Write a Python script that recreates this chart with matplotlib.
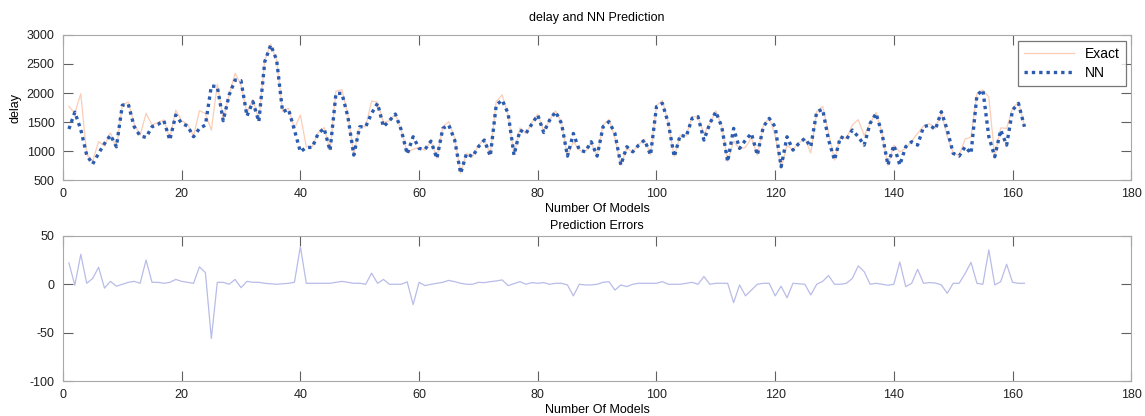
import numpy as np
import matplotlib
matplotlib.use("Agg")
import matplotlib.pyplot as plt

plt.rcParams["font.family"] = ["Liberation Sans", "DejaVu Sans"]
plt.rcParams["axes.unicode_minus"] = False

# model index 1..162
models = list(range(1, 163))

nn_pred = [
    1380, 1670, 1370, 930, 776, 960, 1130, 1276, 1075, 1790,
    1810, 1420, 1260, 1236, 1420, 1460, 1523, 1190, 1620, 1477,
    1431, 1247, 1391, 1448, 2121, 2110, 1523, 1966, 2224, 2213,
    1603, 1851, 1506, 2540, 2828, 2569, 1678, 1719, 1362, 988,
    1063, 1063, 1304, 1391, 1006, 1994, 1994, 1592, 931, 1419,
    1419, 1649, 1822, 1419, 1523, 1638, 1362, 948, 1247, 1046,
    1029, 1172, 873, 1391, 1448, 1190, 615, 960, 902, 1075,
    1190, 914, 1793, 1879, 1649, 931, 1362, 1304, 1465, 1621,
    1320, 1534, 1678, 1477, 914, 1304, 1017, 988, 1161, 914,
    1419, 1506, 1304, 759, 1075, 988, 1103, 1190, 931, 1764,
    1822, 1477, 902, 1276, 1247, 1563, 1592, 1190, 1477, 1678,
    1419, 816, 1391, 1046, 1190, 1304, 931, 1419, 1563, 1419,
    730, 1247, 1017, 1132, 1218, 1075, 1678, 1718, 1190, 845,
    1247, 1201, 1362, 1247, 1103, 1477, 1649, 1304, 759, 1103,
    759, 1075, 1161, 1103, 1419, 1448, 1373, 1678, 1362, 960,
    914, 1075, 960, 1965, 2052, 1247, 902, 1362, 1103, 1707,
    1822, 1419,
]

exact = [
    1769, 1653, 1986, 939, 826, 1164, 1087, 1315, 1054, 1790,
    1847, 1464, 1273, 1648, 1449, 1490, 1538, 1214, 1705, 1523,
    1460, 1260, 1696, 1645, 1360, 2153, 1554, 1966, 2341, 2138,
    1653, 1889, 1537, 2566, 2842, 2569, 1686, 1736, 1390, 1620,
    1074, 1074, 1317, 1405, 1016, 2035, 2056, 1624, 940, 1433,
    1419, 1863, 1840, 1494, 1523, 1638, 1362, 972, 1031, 1067,
    1015, 1172, 882, 1419, 1508, 1223, 621, 960, 902, 1097,
    1211, 939, 1856, 1968, 1626, 938, 1400, 1304, 1490, 1637,
    1343, 1534, 1695, 1492, 908, 1164, 1017, 981, 1153, 914,
    1448, 1548, 1230, 754, 1050, 988, 1114, 1202, 940, 1782,
    1873, 1477, 902, 1276, 1260, 1595, 1592, 1293, 1477, 1695,
    1433, 824, 1169, 1039, 1063, 1230, 931, 1433, 1579, 1267,
    716, 1094, 1027, 1138, 1218, 968, 1678, 1771, 1308, 845,
    1247, 1213, 1449, 1540, 1268, 1477, 1666, 1304, 751, 1103,
    986, 1050, 1173, 1305, 1433, 1473, 1391, 1666, 1246, 970,
    923, 1208, 1242, 1985, 2052, 1933, 896, 1400, 1391, 1742,
    1840, 1433,
]

# prediction error in percent
errors = [
    22, -1, 31, 1, 6, 17.5, -4, 3, -2, 0,
    2, 3, 1, 25, 2, 2, 1, 2, 5, 3,
    2, 1, 18, 12, -56, 2, 2, 0, 5, -3.5,
    3, 2, 2, 1, 0.5, 0, 0.5, 1, 2, 39,
    1, 1, 1, 1, 1, 2, 3, 2, 1, 1,
    0, 11.5, 1, 5, 0, 0, 0, 2.5, -21, 2,
    -1.4, 0, 1, 2, 4, 2.7, 1, 0, 0, 2,
    1.7, 2.7, 3.4, 4.5, -1.4, 0.7, 2.7, 0, 1.7, 1,
    1.7, 0, 1, 1, -0.7, -12, 0, -0.7, -0.7, 0,
    2, 2.7, -6, -0.7, -2.4, 0, 1, 1, 1, 1,
    2.7, 0, 0, 0, 1, 2, 0, 8, 0, 1,
    1, 1, -19, -0.7, -12, -6, 0, 1, 1, -12,
    -2, -14, 1, 0.5, 0, -11, 0, 3, 9, 0,
    0, 1, 6, 19, 13, 0, 1, 0, -1, 0,
    23, -2.4, 1, 15.5, 1, 1.7, 1.3, -0.7, -9.3, 1,
    1, 11, 22.7, 1, 0, 35.5, -0.7, 2.7, 20.7, 2,
    1, 1,
]

SPINE = "#a8a8a8"
TICK = "#606060"


def style_axes(ax):
    for s in ax.spines.values():
        s.set_color(SPINE)
        s.set_linewidth(0.8)
    ax.tick_params(direction="in", length=7, width=0.8, color=TICK,
                   top=True, right=True, labelsize=9, labelcolor="#222222",
                   pad=6)
    ax.set_xlim(0, 180)
    ax.set_xticks(range(0, 181, 20))


fig = plt.figure(figsize=(11.45, 4.16), dpi=100)
ax1 = fig.add_axes([0.055, 0.567, 0.933, 0.349])
ax2 = fig.add_axes([0.055, 0.084, 0.933, 0.349])

ax1.plot(models, exact, color="#fbcdb6", lw=0.9, label="Exact")
ax1.plot(models, nn_pred, color="#2b5cb0", lw=2.4, linestyle=(0, (1, 1.2)),
         label="NN")
style_axes(ax1)
ax1.set_ylim(500, 3000)
ax1.set_yticks(range(500, 3001, 500))
ax1.set_title("delay and NN Prediction", fontsize=9, pad=10)
ax1.set_xlabel("Number Of Models", fontsize=9, labelpad=2)
ax1.set_ylabel("delay", fontsize=9, labelpad=4)
leg = ax1.legend(loc="upper right", bbox_to_anchor=(1126 / 1145, 1 - 41 / 416),
                 bbox_transform=fig.transFigure,
                 borderaxespad=0, fontsize=10, fancybox=False,
                 handlelength=3.6, borderpad=0.45, labelspacing=0.35)
leg.get_frame().set_edgecolor("#555555")
leg.get_frame().set_linewidth(0.9)

ax2.plot(models, errors, color="#b8bce8", lw=0.9)
style_axes(ax2)
ax2.set_ylim(-100, 50)
ax2.set_yticks([-100, -50, 0, 50])
ax2.set_title("Prediction Errors", fontsize=9, pad=5)
ax2.set_xlabel("Number Of Models", fontsize=9, labelpad=2)

fig.savefig("out.png", dpi=100)
